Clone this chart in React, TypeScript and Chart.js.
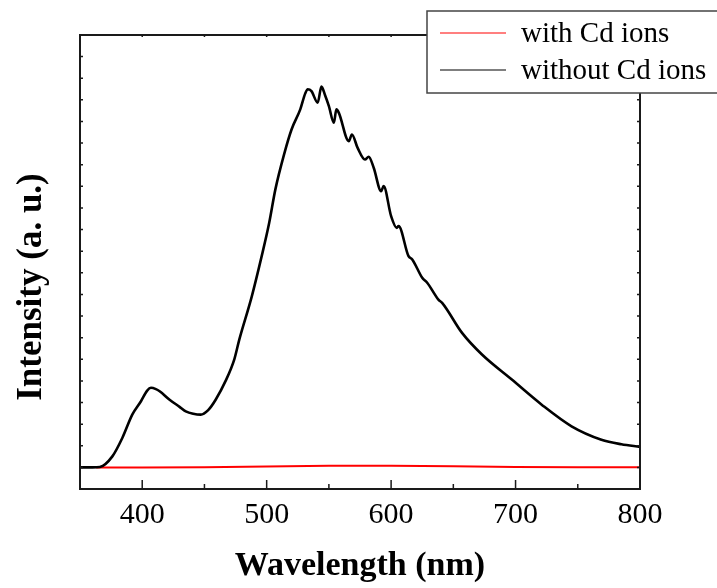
import React, { useEffect, useRef } from "react";
import { Chart, registerables } from "chart.js";

Chart.register(...registerables);

// Black series: without Cd ions (wavelength nm, intensity a.u.)
const withoutWavelengths = [
  350, 360, 366, 376, 384, 392, 399, 404, 407, 411, 414, 422, 430, 435, 441, 447,
  453, 459, 467, 474, 478, 488, 496, 502, 507, 514, 520, 527, 531, 533, 536, 541,
  544, 547, 550, 554, 556, 558, 566, 568.5, 573, 579, 582, 586, 592, 594, 600,
  604.5, 606, 614, 617, 625, 629, 638, 641, 657, 673, 697, 721, 745, 769, 785, 800,
];
const withoutIntensity = [
  0, 0, 20, 510, 1360, 2440, 3060, 3550, 3680, 3620, 3520, 3130, 2800, 2590, 2480, 2440,
  2650, 3130, 4000, 5000, 5910, 7900, 9770, 11300, 12860, 14480, 15630, 16560, 17300, 17490, 17400, 16870,
  17610, 17200, 16710, 15940, 16560, 16400, 15090, 15400, 14790, 14240, 14370, 13860, 12780, 13010, 11620,
  11080, 11160, 9770, 9620, 8770, 8540, 7760, 7610, 6220, 5220, 4060, 2900, 1900, 1280, 1070, 950,
];

// Red series: with Cd ions
const withWavelengths = [363, 400, 450, 500, 550, 600, 650, 700, 750, 800];
const withIntensity = [0, 0, 10, 40, 80, 70, 50, 20, 10, 5];

const xTickValues = [400, 500, 600, 700, 800];
const xMinorValues = [350, 450, 550, 650, 750];
const seriesLabels = ["with Cd ions", "without Cd ions"];
const seriesColors = ["#ff0000", "#000000"];

const X_MIN = 350;
const X_MAX = 800;
const Y_MIN = -1000;
const Y_MAX = 20000;
const Y_STEP = 1000;

const SERIF = "'Liberation Serif', 'Times New Roman', serif";

const framePlugin = {
  id: "framePlugin",
  afterDatasetsDraw(chart: any) {
    const { ctx, chartArea } = chart;
    const xs = chart.scales.x;
    const ys = chart.scales.y;
    const { left, right, top, bottom } = chartArea;
    ctx.save();
    ctx.strokeStyle = "#1a1a1a";
    ctx.lineWidth = 2;
    ctx.strokeRect(left, top, right - left, bottom - top);
    ctx.lineWidth = 1.5;
    ctx.beginPath();
    // bottom / top ticks
    for (const v of xTickValues) {
      const px = xs.getPixelForValue(v);
      ctx.moveTo(px, bottom);
      ctx.lineTo(px, bottom - 9);
      ctx.moveTo(px, top);
      ctx.lineTo(px, top + 2);
    }
    for (const v of xMinorValues) {
      const px = xs.getPixelForValue(v);
      ctx.moveTo(px, bottom);
      ctx.lineTo(px, bottom - 5);
      ctx.moveTo(px, top);
      ctx.lineTo(px, top + 2);
    }
    // left / right ticks
    for (let v = Y_MIN; v <= Y_MAX; v += Y_STEP) {
      const py = ys.getPixelForValue(v);
      ctx.moveTo(left, py);
      ctx.lineTo(left + 3, py);
      ctx.moveTo(right, py);
      ctx.lineTo(right - 3, py);
    }
    ctx.stroke();
    ctx.restore();
  },
  afterDraw(chart: any) {
    const { ctx, chartArea } = chart;
    ctx.save();
    // axis titles
    ctx.fillStyle = "#000";
    ctx.font = `bold 34px ${SERIF}`;
    ctx.textAlign = "center";
    ctx.textBaseline = "alphabetic";
    ctx.fillText("Wavelength (nm)", (chartArea.left + chartArea.right) / 2, 575);
    ctx.save();
    ctx.font = `bold 35px ${SERIF}`;
    ctx.translate(41, 287);
    ctx.rotate(-Math.PI / 2);
    ctx.fillText("Intensity (a. u.)", 0, 0);
    ctx.restore();

    // legend box
    const bx = 427;
    const by = 11;
    const bw = 300;
    const bh = 82;
    ctx.fillStyle = "#fff";
    ctx.fillRect(bx, by, bw, bh);
    ctx.strokeStyle = "#444";
    ctx.lineWidth = 1.5;
    ctx.strokeRect(bx, by, bw, bh);
    const rows = [33, 70];
    ctx.font = `29px ${SERIF}`;
    ctx.textAlign = "left";
    ctx.textBaseline = "middle";
    rows.forEach((ry, i) => {
      ctx.strokeStyle = seriesColors[i];
      ctx.lineWidth = 1.2;
      ctx.beginPath();
      ctx.moveTo(440, ry);
      ctx.lineTo(506, ry);
      ctx.stroke();
      ctx.fillStyle = "#000";
      ctx.fillText(seriesLabels[i], 521, ry + 1);
    });
    ctx.restore();
  },
};

export default function App() {
  const canvasRef = useRef<HTMLCanvasElement | null>(null);

  useEffect(() => {
    const canvas = canvasRef.current;
    if (!canvas) return;
    const chart = new Chart(canvas, {
      type: "line",
      data: {
        datasets: [
          {
            label: seriesLabels[1],
            data: withoutWavelengths.map((x, i) => ({ x, y: withoutIntensity[i] })),
            borderColor: seriesColors[1],
            borderWidth: 2.6,
            pointRadius: 0,
            cubicInterpolationMode: "monotone",
            order: 0,
          },
          {
            label: seriesLabels[0],
            data: withWavelengths.map((x, i) => ({ x, y: withIntensity[i] })),
            borderColor: seriesColors[0],
            borderWidth: 2,
            pointRadius: 0,
            tension: 0,
            order: 1,
          },
        ],
      },
      options: {
        responsive: false,
        animation: false,
        devicePixelRatio: 1,
        layout: { padding: { top: 35, right: 77, left: 0, bottom: 0 } },
        plugins: { legend: { display: false }, tooltip: { enabled: false } },
        scales: {
          x: {
            type: "linear",
            min: X_MIN,
            max: X_MAX,
            grid: { display: false, drawTicks: false },
            border: { display: false },
            afterBuildTicks: (scale: any) => {
              scale.ticks = xTickValues.map((v) => ({ value: v }));
            },
            afterFit: (scale: any) => {
              scale.height = 99;
            },
            ticks: {
              padding: 8,
              color: "#000",
              maxRotation: 0,
              autoSkip: false,
              font: { family: SERIF, size: 30 },
            },
          },
          y: {
            type: "linear",
            min: Y_MIN,
            max: Y_MAX,
            grid: { display: false, drawTicks: false },
            border: { display: false },
            ticks: { display: false },
            afterFit: (scale: any) => {
              scale.width = 80;
            },
          },
        },
      },
      plugins: [framePlugin],
    });
    return () => chart.destroy();
  }, []);

  return (
    <div style={{ position: "fixed", left: 0, top: 0, width: 717, height: 588, background: "#fff" }}>
      <canvas ref={canvasRef} width={717} height={588} style={{ width: 717, height: 588 }} />
    </div>
  );
}
